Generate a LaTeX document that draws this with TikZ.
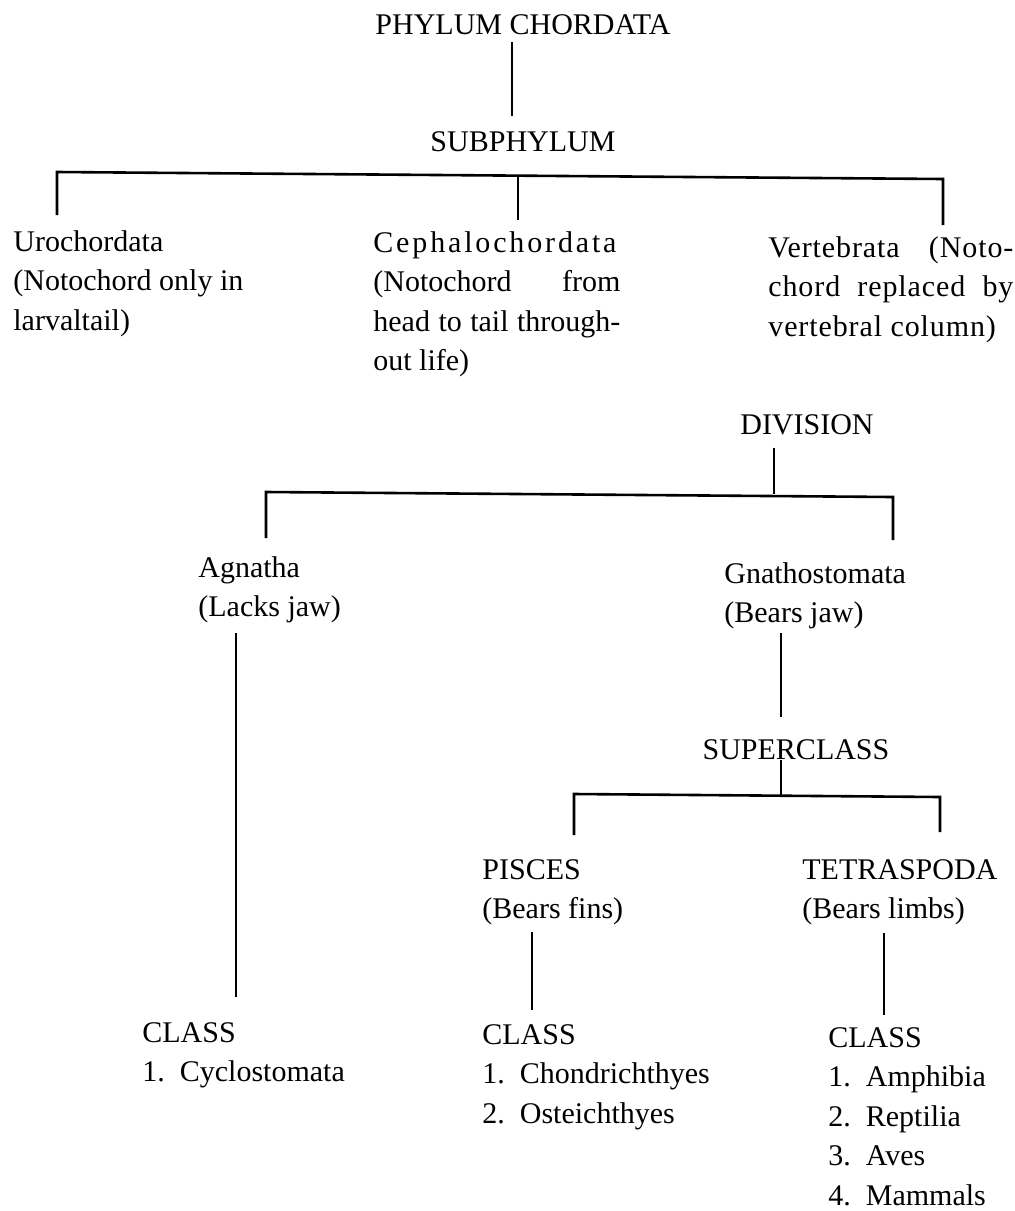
\documentclass[tikz,border=0pt]{standalone}
\usepackage{fontspec}
\setmainfont{Liberation Serif}
\newfontfamily\widefont[LetterSpace=9.5]{Liberation Serif}
\newfontfamily\loosefont[LetterSpace=3]{Liberation Serif}
\tolerance=10000
\hbadness=10000

\begin{document}
\begin{tikzpicture}[x=0.5pt, y=-0.5pt,
    every node/.style={font=\fontsize{15}{19.75}\selectfont, inner sep=0pt},
    rank/.style={anchor=center},
    taxon/.style={anchor=north west, align=left},
    taxonpar/.style={anchor=north west, align=justify, text width=#1},
    link/.style={line width=1.3pt}]
    \useasboundingbox (0,0) rectangle (1015,1211);

    % 階級の見出し
    \node[rank] (phylum) at (523,25) {PHYLUM CHORDATA};
    \node[rank] (subphylum) at (523,142) {SUBPHYLUM};
    \node[rank] (division) at (807,425) {DIVISION};
    \node[rank] (superclass) at (796,750) {SUPERCLASS};

    % 亜門
    \node[taxon] (uro) at (13,230) {Urochordata\\(Notochord only in\\larvaltail)};
    \node[taxonpar=123.5pt] (ceph) at (373,231) {{\widefont Cephalochordata}\linebreak(Notochord from\linebreak head to tail through-\linebreak out life)};
    \node[taxonpar=122.5pt] (vert) at (768,236) {\loosefont Vertebrata (Noto-\linebreak chord replaced by\linebreak vertebral column)};

    % 区分
    \node[taxon] (agnatha) at (198,556) {Agnatha\\(Lacks jaw)};
    \node[taxon] (gnatho) at (724,562) {Gnathostomata\\(Bears jaw)};

    % 上綱
    \node[taxon] (pisces) at (482,859) {PISCES\\(Bears fins)};
    \node[taxon] (tetra) at (802,859) {TETRASPODA\\(Bears limbs)};

    % 綱
    \node[taxon] (classA) at (142,1022) {CLASS\\1.\enskip Cyclostomata};
    \node[taxon] (classB) at (482,1024) {CLASS\\1.\enskip Chondrichthyes\\2.\enskip Osteichthyes};
    \node[taxon] (classC) at (828,1027) {CLASS\\1.\enskip Amphibia\\2.\enskip Reptilia\\3.\enskip Aves\\4.\enskip Mammals};

    % 分岐点
    \coordinate (ph) at (512,42);
    \coordinate (sw) at (57,172);
    \coordinate (sm) at (518,176);
    \coordinate (se) at (943,179);
    \coordinate (dw) at (266,492);
    \coordinate (dm) at (774,494);
    \coordinate (de) at (893,497);
    \coordinate (ag) at (236,633);
    \coordinate (gn) at (781,633);
    \coordinate (cm) at (781,795);
    \coordinate (cw) at (574,794);
    \coordinate (ce) at (940,797);
    \coordinate (pi) at (532,932);
    \coordinate (te) at (884,933);

    % 門から亜門へ
    \draw[link, shorten >=8pt] (ph) -- (ph |- subphylum.north);
    \draw[link, shorten <=7.5pt, shorten >=5.5pt] (sw |- uro.north) -- (sw) -- (se) -- (se |- vert.north);
    \draw[link, shorten >=5.5pt] (sm) -- (sm |- ceph.north);

    % 区分
    \draw[link, shorten <=6pt] (dm |- division.south) -- (dm);
    \draw[link, shorten <=9pt, shorten >=11pt] (dw |- agnatha.north) -- (dw) -- (de) -- (de |- gnatho.north);
    \draw[link, shorten >=12.5pt] (ag) -- (ag |- classA.north);
    \draw[link, shorten >=11.5pt] (gn) -- (gn |- superclass.north);

    % 上綱
    \draw[link] (cm |- superclass.south) -- (cm);
    \draw[link, shorten <=12pt, shorten >=13.5pt] (cw |- pisces.north) -- (cw) -- (ce) -- (ce |- tetra.north);
    \draw[link, shorten >=7pt] (pi) -- (pi |- classB.north);
    \draw[link, shorten >=6pt] (te) -- (te |- classC.north);
\end{tikzpicture}
\end{document}
